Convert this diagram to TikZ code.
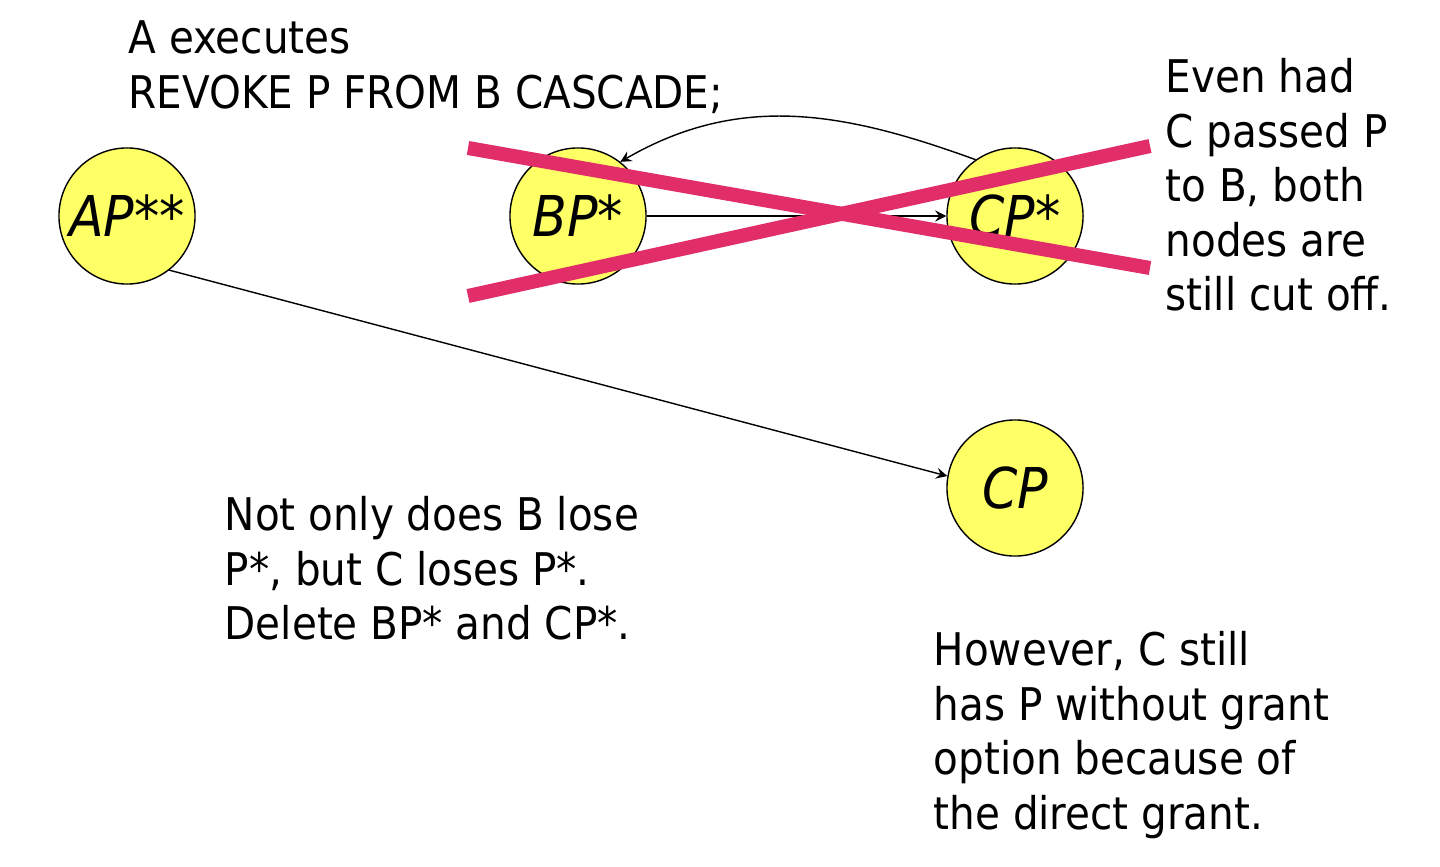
\documentclass[tikz,border=0pt]{standalone}
\usepackage{fontspec}
\setmainfont{DejaVu Sans Condensed}
\usetikzlibrary{positioning,arrows}
\usetikzlibrary{math}
\definecolor{nodeyellow}{RGB}{255,255,102}
\definecolor{revokered}{RGB}{226,46,104}
\tikzset{
    grantnode/.style={circle, draw, thin, fill=nodeyellow, inner sep=0pt,
        minimum size=1.36cm, font=\fontsize{16}{18}\selectfont\itshape},
    crossline/.style={draw=revokered, line width=4pt},
    note/.style={align=left, anchor=north west, inner sep=0pt,
        font=\fontsize{12.8}{15.5}\selectfont},
}

\begin{document}
\begin{tikzpicture}[
    >=stealth,
    x=0.01cm, y=0.01cm,
    thin,
  ]

  \tikzmath{
    \toprow = 650; % height of the first row of nodes
    \lowrow = 378; % height of the lonely CP node
  }

  \useasboundingbox (0,0) rectangle (1440,866);

  % -----
  % Nodes
  % -----
  \node[grantnode] (ap)  at ( 127, \toprow) {AP**};
  \node[grantnode] (bp)  at ( 578, \toprow) {BP*};
  \node[grantnode] (cps) at (1015, \toprow) {CP*};
  \node[grantnode] (cp)  at (1015, \lowrow) {CP};

  % Grants
  \draw[->] (bp) -- (cps);
  \draw[->] (cps.125) to[out=160, in=30] (bp.52);
  \draw[->] (ap.-52) -- (cp.170);

  % The big cross over the revoked nodes
  \coordinate (xa) at ( 468, 718);
  \coordinate (xb) at (1150, 598);
  \coordinate (xc) at ( 468, 570);
  \coordinate (xd) at (1150, 720);
  \draw[crossline] (xa) -- (xb);
  \draw[crossline] (xc) -- (xd);

  % --------
  % Comments
  % --------
  \node[note] (cmd) at (128, 846) {A executes\\REVOKE P FROM B CASCADE;};

  \node[note] (evenhad) at (1165, 808)
    {Even had\\C passed P\\to B, both\\nodes are\\still cut off.};

  \node[note] (notonly) at (224, 370)
    {Not only does B lose\\P*, but C loses P*.\\Delete BP* and CP*.};

  \node[note] (however) at (933, 235)
    {However, C still\\has P without grant\\option because of\\the direct grant.};

\end{tikzpicture}
\end{document}
